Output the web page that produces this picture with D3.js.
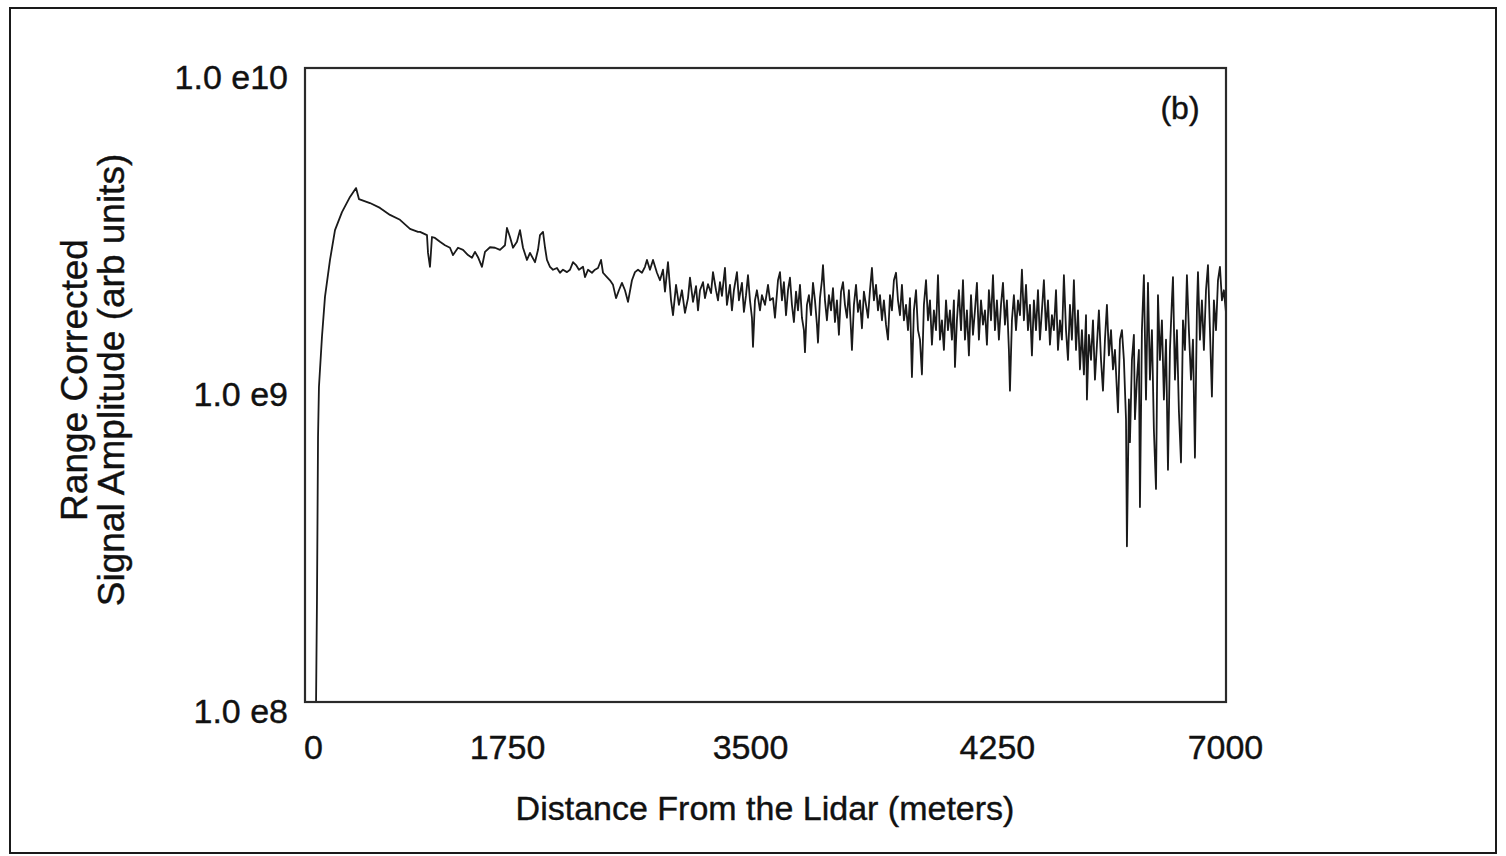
<!DOCTYPE html>
<html>
<head>
<meta charset="utf-8">
<script src="https://cdn.jsdelivr.net/npm/d3@7"></script>
<style>
  html, body { margin: 0; padding: 0; background: #fff; }
  svg { display: block; }
  text { font-family: "Liberation Sans", Arial, Helvetica, sans-serif; fill: #111; stroke: #111; stroke-width: 0.4px; }
</style>
</head>
<body>
<svg id="chart" width="1506" height="856"></svg>
<script>
// ---- data ----
const distance = [
  84, 91, 95, 99, 106, 129, 152, 190, 228, 281, 342, 388, 410, 494, 570, 646, 722, 798, 859,
  874, 927, 935, 950, 965, 988, 1026, 1064, 1102, 1125, 1163, 1201, 1239, 1269, 1292, 1315, 1345, 1368, 1406, 1444, 1482, 1520, 1535, 1558, 1581, 1611, 1634, 1657, 1687, 1710, 1748, 1771,
  1786, 1809, 1824, 1839, 1862, 1885, 1915, 1938, 1961, 1991, 2014, 2037, 2060, 2082, 2113, 2128, 2151, 2181, 2204, 2227, 2250, 2265, 2295, 2318, 2341, 2364, 2386, 2409, 2432, 2455, 2485, 2508, 2531, 2561, 2584, 2599, 2622, 2645, 2675, 2698,
  2721, 2736, 2759, 2782, 2797, 2820, 2842, 2865, 2888, 2911, 2926, 2949, 2972, 2987, 3002, 3025, 3040, 3063, 3086, 3101, 3124, 3139, 3154, 3169, 3192, 3207, 3230, 3245, 3260, 3283, 3298, 3321, 3336, 3352, 3367, 3382, 3397, 3405, 3420, 3435, 3458, 3473, 3496, 3519, 3534, 3557, 3572, 3595, 3610,
  3625, 3640, 3656, 3671, 3686, 3701, 3716, 3732, 3747, 3762, 3777, 3792, 3800, 3815, 3830, 3846, 3861, 3876, 3891, 3899, 3914, 3929, 3937, 3952, 3967, 3982, 3998, 4013, 4028, 4043, 4058, 4074, 4089, 4104, 4119, 4134, 4150, 4157, 4172, 4188, 4203, 4218, 4233, 4248, 4264, 4279, 4294, 4309, 4324, 4340, 4355, 4370, 4385, 4400, 4416, 4431, 4446, 4461, 4476, 4492, 4507, 4522,
  4537, 4552, 4568, 4583, 4598, 4613, 4628, 4644, 4659, 4674, 4689, 4704, 4720, 4735, 4750, 4765, 4780, 4796, 4811, 4826, 4841, 4856, 4872, 4887, 4902, 4917, 4932, 4940, 4955, 4970, 4986, 5001, 5016, 5031, 5046, 5062, 5077, 5092, 5107, 5122, 5138, 5153, 5168, 5183, 5198, 5214, 5229, 5244, 5259, 5274, 5290, 5305, 5320, 5335, 5350, 5358, 5373, 5388, 5404, 5419, 5434,
  5449, 5464, 5480, 5495, 5510, 5525, 5540, 5556, 5571, 5586, 5601, 5616, 5632, 5647, 5662, 5677, 5692, 5708, 5723, 5738, 5753, 5768, 5784, 5799, 5814, 5829, 5844, 5860, 5875, 5890, 5905, 5920, 5936, 5943, 5958, 5974, 5989, 6004, 6019, 6034, 6050, 6065, 6080, 6095, 6110, 6126, 6141, 6156, 6171, 6179, 6194, 6209, 6224, 6240, 6247, 6262, 6270, 6285, 6300, 6308, 6323, 6338,
  6346, 6361, 6376, 6392, 6407, 6422, 6437, 6452, 6468, 6483, 6498, 6513, 6528, 6544, 6559, 6574, 6589, 6597, 6612, 6627, 6642, 6658, 6673, 6688, 6703, 6718, 6734, 6749, 6764, 6779, 6787, 6802, 6817, 6832, 6848, 6863, 6878, 6893, 6908, 6924, 6939, 6954, 6969, 6984, 7000
];
// signal amplitude in units of 1e9 (arb units)
const signalE9 = [
  0.100, 0.210, 0.375, 0.685, 0.986, 1.42, 1.90, 2.48, 3.08, 3.51, 3.92, 4.18, 3.86, 3.75, 3.62, 3.44, 3.32, 3.11, 3.04,
  3.04, 2.97, 2.61, 2.36, 2.93, 2.91, 2.83, 2.76, 2.71, 2.57, 2.71, 2.67, 2.57, 2.52, 2.63, 2.53, 2.36, 2.63, 2.72, 2.71, 2.67, 2.76, 3.13, 2.93, 2.71, 2.83, 3.08, 2.71, 2.48, 2.61, 2.44, 2.67,
  2.97, 3.04, 2.72, 2.48, 2.36, 2.31, 2.34, 2.26, 2.31, 2.27, 2.31, 2.44, 2.39, 2.31, 2.36, 2.19, 2.31, 2.26, 2.31, 2.34, 2.48, 2.26, 2.19, 2.14, 2.07, 1.88, 1.99, 2.10, 1.99, 1.83, 2.14, 2.27, 2.31, 2.26, 2.36, 2.48, 2.31, 2.48, 2.26, 2.14,
  2.31, 1.97, 2.44, 1.85, 1.66, 2.07, 1.79, 1.99, 1.69, 1.88, 2.18, 1.83, 2.05, 1.72, 1.99, 2.11, 1.88, 2.08, 1.95, 2.27, 1.99, 1.85, 2.11, 1.91, 2.34, 1.79, 2.07, 1.72, 1.99, 2.27, 1.85, 2.10, 1.70, 1.92, 2.22, 1.85, 1.63, 1.32, 1.85, 1.99, 1.72, 1.92, 1.79, 2.07, 1.85, 1.88, 1.63, 2.14, 2.27,
  1.85, 2.11, 1.66, 1.99, 2.18, 1.79, 1.58, 1.97, 1.72, 2.07, 1.63, 1.49, 1.27, 1.79, 1.92, 1.66, 2.10, 1.85, 1.55, 1.36, 1.88, 2.14, 2.39, 1.85, 1.60, 1.92, 1.72, 2.02, 1.58, 1.85, 1.44, 1.97, 2.11, 1.79, 1.63, 1.99, 1.49, 1.29, 1.79, 2.07, 1.70, 1.85, 1.51, 1.97, 1.79, 1.63, 1.99, 2.34, 1.85, 2.07, 1.72, 1.92, 1.60, 1.85, 1.55, 1.39, 1.92, 1.72, 2.14, 2.26, 1.85, 1.66,
  2.07, 1.60, 1.79, 1.49, 1.88, 1.06, 1.72, 1.99, 1.49, 1.39, 1.08, 1.79, 2.14, 1.60, 1.85, 1.34, 1.72, 1.49, 2.22, 1.39, 1.60, 1.29, 1.85, 1.49, 1.72, 1.39, 1.85, 1.14, 1.60, 1.99, 1.49, 2.14, 1.39, 1.72, 1.24, 1.92, 1.44, 1.72, 2.10, 1.39, 1.85, 1.55, 1.72, 1.34, 1.99, 1.60, 2.22, 1.49, 1.85, 1.39, 1.79, 2.10, 1.55, 1.85, 1.29, 0.96, 1.60, 1.92, 1.49, 1.85, 1.66,
  2.31, 1.60, 2.07, 1.49, 1.79, 1.24, 1.85, 1.49, 1.99, 1.39, 1.72, 2.14, 1.49, 1.85, 1.34, 1.66, 1.49, 1.99, 1.29, 1.60, 1.39, 2.22, 1.49, 1.20, 1.79, 1.39, 2.14, 1.29, 1.72, 1.12, 1.49, 1.08, 1.66, 0.90, 1.44, 1.20, 1.60, 1.04, 1.34, 1.72, 1.20, 0.96, 1.39, 1.79, 1.24, 1.49, 1.12, 1.29, 0.96, 0.82, 1.39, 1.49, 1.20, 0.78, 0.31, 0.90, 0.66, 1.20, 1.44, 0.78, 1.04, 1.29,
  0.412, 1.49, 2.22, 0.90, 2.10, 1.04, 1.49, 0.72, 0.47, 1.92, 1.20, 1.60, 0.90, 1.39, 0.54, 1.29, 1.85, 2.19, 1.04, 1.49, 0.83, 0.57, 1.60, 1.29, 2.22, 1.49, 1.04, 1.39, 0.59, 1.72, 2.27, 1.39, 1.85, 1.29, 1.99, 2.39, 1.49, 0.92, 1.85, 1.49, 2.14, 2.36, 1.85, 1.99, 1.69
];
const yTickValues = [1e8, 1e9, 1e10];
const yTickLabels = ["1.0 e8", "1.0 e9", "1.0 e10"];
const xTickAt = [61, 1535, 3382, 5259, 6992];
const xTickLabels = ["0", "1750", "3500", "4250", "7000"];
const panelLabel = "(b)";
const xTitle = "Distance From the Lidar (meters)";
const yTitleLines = ["Range Corrected", "Signal Amplitude (arb units)"];

// ---- layout ----
const svg = d3.select("#chart");
const plot = { left: 305, right: 1226, top: 68, bottom: 702 };

svg.append("rect").attr("width", 1506).attr("height", 856).attr("fill", "#fff");
svg.append("rect")
  .attr("x", 10).attr("y", 8).attr("width", 1486).attr("height", 845)
  .attr("fill", "none").attr("stroke", "#1a1a1a").attr("stroke-width", 2);

const x = d3.scaleLinear().domain([0, 7000]).range([plot.left, plot.right]);
const y = d3.scaleLog().domain([1e8, 1e10]).range([plot.bottom, plot.top]);

svg.append("clipPath").attr("id", "clip")
  .append("rect")
  .attr("x", plot.left).attr("y", plot.top)
  .attr("width", plot.right - plot.left).attr("height", plot.bottom - plot.top);

const data = distance.map((d, i) => ({ d, v: signalE9[i] * 1e9 }));
const line = d3.line().x(p => x(p.d)).y(p => y(p.v));

svg.append("path")
  .datum(data)
  .attr("clip-path", "url(#clip)")
  .attr("d", line)
  .attr("fill", "none")
  .attr("stroke", "#1a1a1a")
  .attr("stroke-width", 1.8)
  .attr("stroke-linejoin", "round");

// frame
svg.append("rect")
  .attr("x", plot.left).attr("y", plot.top)
  .attr("width", plot.right - plot.left).attr("height", plot.bottom - plot.top)
  .attr("fill", "none").attr("stroke", "#2a2a2a").attr("stroke-width", 2.2);

// y axis
const yAxis = d3.axisLeft(y)
  .tickValues(yTickValues)
  .tickFormat((d, i) => yTickLabels[i])
  .tickSize(0).tickPadding(17);
const gy = svg.append("g").attr("transform", `translate(${plot.left},0)`).call(yAxis);
gy.select(".domain").remove();
gy.selectAll("text")
  .attr("font-size", 34)
  .attr("font-family", "\"Liberation Sans\", Arial, sans-serif")
  .attr("fill", "#111")
  .attr("dy", "0.6em");

// x axis
const xAxis = d3.axisBottom(x)
  .tickValues(xTickAt)
  .tickFormat((d, i) => xTickLabels[i])
  .tickSize(0).tickPadding(33);
const gx = svg.append("g").attr("transform", `translate(0,${plot.bottom})`).call(xAxis);
gx.select(".domain").remove();
gx.selectAll("text")
  .attr("font-size", 34)
  .attr("font-family", "\"Liberation Sans\", Arial, sans-serif")
  .attr("fill", "#111");

// axis titles
svg.append("text")
  .attr("x", 765).attr("y", 808)
  .attr("text-anchor", "middle").attr("dominant-baseline", "central")
  .attr("font-size", 34)
  .text(xTitle);

const yt = svg.append("text")
  .attr("transform", "translate(0,380) rotate(-90)")
  .attr("text-anchor", "middle")
  .attr("font-size", 37);
yt.append("tspan").attr("x", 0).attr("y", 87).text(yTitleLines[0]);
yt.append("tspan").attr("x", 0).attr("y", 124).text(yTitleLines[1]);

// panel label
svg.append("text")
  .attr("x", 1180).attr("y", 108)
  .attr("text-anchor", "middle").attr("dominant-baseline", "central")
  .attr("font-size", 32)
  .text(panelLabel);
</script>
</body>
</html>
